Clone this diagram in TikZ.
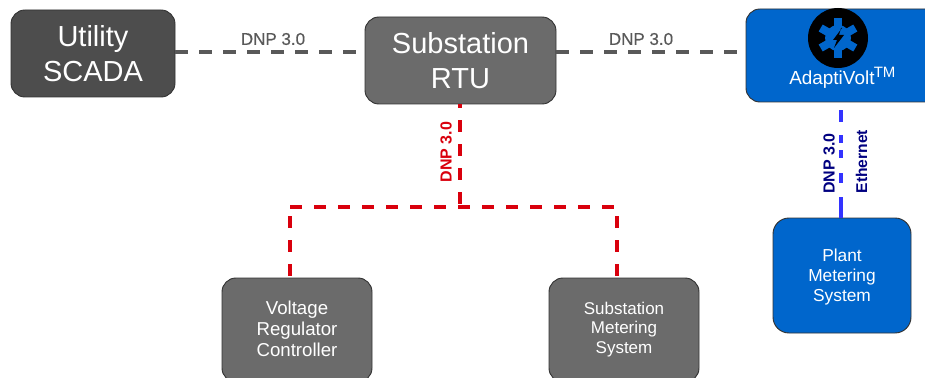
\documentclass[tikz,border=0pt]{standalone}
\usepackage{fontspec}
\setmainfont{Liberation Sans}
\newfontfamily\semibold[FakeBold=0.5]{Liberation Sans}
\definecolor{scadagray}{HTML}{4D4D4D}
\definecolor{rtugray}{HTML}{6B6B6B}
\definecolor{edgegray}{HTML}{333333}
\definecolor{linegray}{HTML}{595959}
\definecolor{nodeblue}{HTML}{0066CC}
\definecolor{linered}{HTML}{D9000D}
\definecolor{lineblue}{HTML}{3333FF}
\definecolor{labelblue}{HTML}{000080}
\tikzset{
  x=0.75pt,y=-0.75pt,
  box/.style={draw=edgegray,line width=0.7pt,rounded corners=10.5pt,text=white,align=center,inner sep=0pt},
  bigtext/.style={font=\fontsize{21.75pt}{26pt}\selectfont},
  boxlabel/.style={text=white,align=center,inner sep=0pt},
  graylink/.style={line width=3pt,dash pattern=on 9.5pt off 8.5pt,draw=linegray},
  redlink/.style={line width=2.5pt,dash pattern=on 9pt off 9pt,draw=linered},
  bluelink/.style={line width=2.5pt,draw=lineblue},
  toplabel/.style={font=\semibold\fontsize{12.75pt}{15pt}\selectfont,text=linegray,inner sep=0pt},
  sidelabel/.style={font=\bfseries\fontsize{12pt}{14pt}\selectfont,rotate=90,inner sep=0pt},
}
\begin{document}
\begin{tikzpicture}
\useasboundingbox (0,0) rectangle (925,378);
\clip (0,0) rectangle (925,378);
\node[box,fill=scadagray,bigtext,minimum width=123pt,minimum height=65.25pt] (scada) at (93,53.5) {Utility\\SCADA};
\node[box,fill=rtugray,bigtext,minimum width=143.25pt,minimum height=65.25pt] (rtu) at (460.5,60.5) {Substation\\RTU};
\node[box,fill=nodeblue,minimum width=165pt,minimum height=69.75pt] (adapti) at (856,55.5) {};
\node[box,fill=nodeblue,minimum width=103.5pt,minimum height=86.25pt,rounded corners=12pt] (plant) at (842,275.5) {};
\node[boxlabel,font=\fontsize{13pt}{15pt}\selectfont] (planttext) at (842,277.5) {Plant\\Metering\\System};
\node[box,fill=rtugray,minimum width=112.5pt,minimum height=78pt] (vrc) at (297,330) {};
\node[boxlabel,font=\fontsize{14pt}{15.9pt}\selectfont] (vrctext) at (297,329) {Voltage\\Regulator\\Controller};
\node[box,fill=rtugray,minimum width=112.5pt,minimum height=78pt] (sms) at (624,330) {};
\node[boxlabel,font=\fontsize{12.75pt}{14.8pt}\selectfont] (smstext) at (624,329.5) {Substation\\Metering\\System};
% icon
\fill[black] (838,38) circle (22.5pt);
\begin{scope}[shift={(838,38)}]
  \fill[nodeblue] (0,0) circle (9.75pt);
  \foreach \a in {90,30,-30,-90,150,210}{
    \draw[nodeblue,line width=6pt] (0,0) -- (\a:20);
  }
  \fill[black] (4,-10) -- (-5,2) -- (-1,2) -- (-4,10) -- (6,-3) -- (1,-3) -- (3,-10) -- cycle;
\end{scope}
\node[text=white,inner sep=0pt,font=\fontsize{14.2pt}{16pt}\selectfont,anchor=base west] (adaptitext) at (789,85) {AdaptiVolt};
\node[text=white,inner sep=0pt,font=\fontsize{11.25pt}{13pt}\selectfont,anchor=base west] (tm) at (873.5,78) {TM};
% gray links
\draw[graylink] ([yshift=0.75pt]scada.east) -- ([yshift=0.75pt]scada.east -| rtu.west);
\draw[graylink] ([yshift=0.75pt]rtu.east |- scada.east) -- ([yshift=0.75pt]adapti.west |- scada.east);
\node[toplabel] (l1) at (273,39) {DNP 3.0};
\node[toplabel] (l2) at (641,39) {DNP 3.0};
% red
\coordinate (jn) at (460,207);
\coordinate (jl) at (290,207);
\coordinate (jr) at (617,207);
\coordinate (dl) at (290,278);
\coordinate (dr) at (617,278);
\draw[redlink,dash phase=6pt] (rtu.south -| jn) -- (jn);
\draw[redlink] (jl) -- (jr);
\draw[redlink,dash phase=11.25pt] (jl) -- (dl);
\draw[redlink,dash phase=11.25pt] (jr) -- (dr);
\node[sidelabel,text=linered] (l3) at (446,152) {DNP 3.0};
% blue
\draw[bluelink,dash pattern=on 0pt off 6pt on 9pt off 9.75pt on 6pt off 5.25pt on 6pt off 11.25pt on 7.5pt off 10.5pt on 15pt] (adapti.south -| plant.north) ++(-1,0) -- ([xshift=-0.75pt]plant.north);
\node[sidelabel,text=labelblue] (l4) at (829,163.5) {DNP 3.0};
\node[sidelabel,text=labelblue,font=\bfseries\fontsize{11.7pt}{14pt}\selectfont] (l5) at (861.5,161.5) {Ethernet};
\end{tikzpicture}
\end{document}
